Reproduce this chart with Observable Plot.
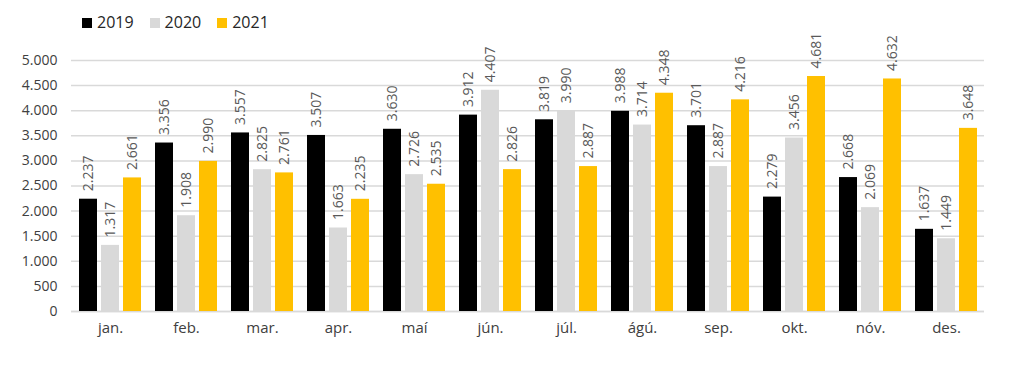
<!DOCTYPE html>
<html>
<head>
<meta charset="utf-8">
<script src="https://cdn.jsdelivr.net/npm/d3@7"></script>
<script src="https://cdn.jsdelivr.net/npm/@observablehq/plot@0.6"></script>
<style>
  body { margin: 0; background: #fff; font-family: "Open Sans", sans-serif; }
  #legend { height: 32px; box-sizing: border-box; padding-top: 13px; padding-left: 82px; display: flex; align-items: center; font-size: 16px; color: #262626; line-height: 19px; }
  #legend .item { display: flex; align-items: center; margin-right: 16px; }
  #legend .sw { width: 10px; height: 10px; margin-right: 5px; }
  svg { overflow: visible; }
</style>
</head>
<body>
<div id="legend"></div>
<div id="chart"></div>
<script>
const months = ["jan.", "feb.", "mar.", "apr.", "maí", "jún.", "júl.", "ágú.", "sep.", "okt.", "nóv.", "des."];
const years = ["2019", "2020", "2021"];
const colors = ["#000000", "#d9d9d9", "#ffc000"];
const v2019 = [2237, 3356, 3557, 3507, 3630, 3912, 3819, 3988, 3701, 2279, 2668, 1637];
const v2020 = [1317, 1908, 2825, 1663, 2726, 4407, 3990, 3714, 2887, 3456, 2069, 1449];
const v2021 = [2661, 2990, 2761, 2235, 2535, 2826, 2887, 4348, 4216, 4681, 4632, 3648];
const yTicks = [0, 500, 1000, 1500, 2000, 2500, 3000, 3500, 4000, 4500, 5000];

const series = [v2019, v2020, v2021];
const fmt = d3.formatLocale({decimal: ",", thousands: ".", grouping: [3], currency: ["", ""]}).format(",d");

// legend
const legend = document.getElementById("legend");
years.forEach((y, i) => {
  const it = document.createElement("div");
  it.className = "item";
  it.innerHTML = `<span class="sw" style="background:${colors[i]}"></span><span>${y}</span>`;
  legend.appendChild(it);
});

const offsets = [-22, 0, 22];
const barW = 18;
const marks = [
  Plot.gridY(yTicks, {stroke: "#d9d9d9", strokeOpacity: 1, strokeWidth: 1.5}),
  Plot.ruleY([0], {stroke: "#d9d9d9", strokeWidth: 1.5})
];
series.forEach((vals, i) => {
  const data = months.map((m, j) => ({month: m, value: vals[j]}));
  const center = 38 + offsets[i];
  const left = center - barW / 2;
  marks.push(Plot.barY(data, {
    x: "month", y: "value", fill: colors[i],
    insetLeft: left, insetRight: 76 - left - barW
  }));
  marks.push(Plot.text(data, {
    x: "month", y: "value", text: d => fmt(d.value),
    rotate: -90, textAnchor: "start", dx: offsets[i], dy: -8,
    fill: "#595959", fontSize: 14
  }));
});

const chart = Plot.plot({
  width: 1012,
  height: 336,
  marginTop: 28,
  marginBottom: 57,
  marginLeft: 71,
  marginRight: 28,
  style: {fontFamily: "Open Sans, sans-serif", fontSize: "14px", color: "#404040", background: "transparent"},
  x: {domain: months, padding: 0, label: null, tickSize: 0, tickPadding: 11},
  y: {domain: [0, 5000], ticks: yTicks, tickFormat: fmt, label: null, tickSize: 0, tickPadding: 14},
  marks: [
    ...marks,
    Plot.axisX({tickSize: 0, tickPadding: 11, fontSize: 15, label: null})
  ]
});
document.getElementById("chart").appendChild(chart);
</script>
</body>
</html>
